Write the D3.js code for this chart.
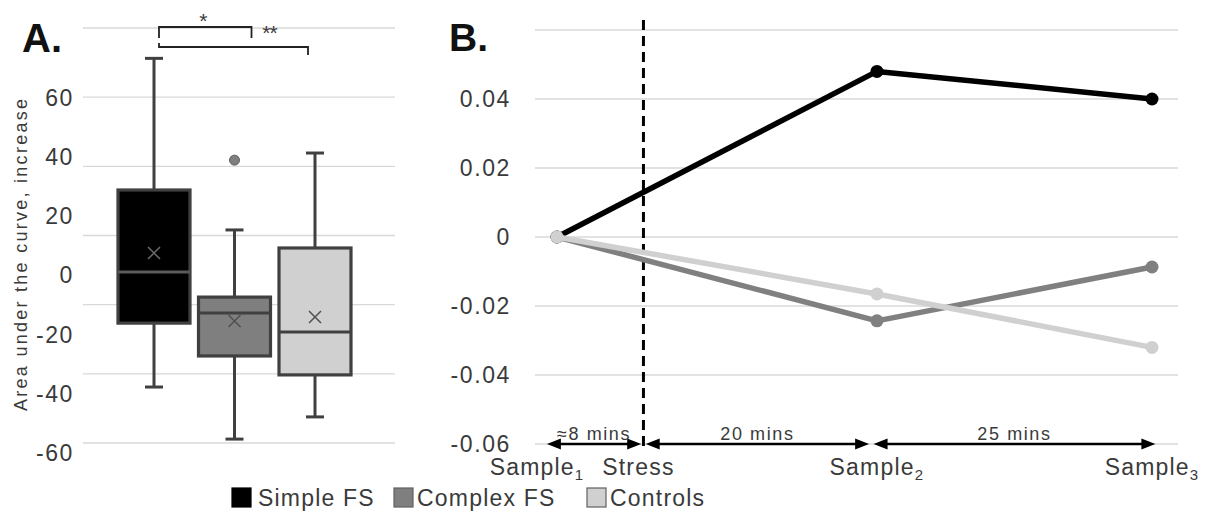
<!DOCTYPE html>
<html><head><meta charset="utf-8">
<script src="https://cdn.jsdelivr.net/npm/d3@7/dist/d3.min.js"></script>
<style>
html,body{margin:0;padding:0;background:#fff;}
svg text{font-family:"Liberation Sans",Arial,sans-serif;}
</style></head>
<body><svg id="c" width="1206" height="512"></svg>
<script>
// ---------- Panel A data (box plots) ----------
const groups = ["Simple FS", "Complex FS", "Controls"];
const groupColors = ["#000000", "#7f7f7f", "#d0d0d0"];
const whiskerLow = [-37.7, -55.3, -47.8];
const q1 = [-16.1, -27.2, -33.6];
const median = [1.2, -12.7, -19.1];
const q3 = [28.9, -7.3, 9.3];
const whiskerHigh = [73.4, 15.4, 41.4];
const means = [7.6, -15.4, -14.0];
const outliers = [[], [39.0], []];
const tickLabelsA = [60, 40, 20, 0, -20, -40, -60];
const gridValuesA = [80, 60, 40, 20, 0, -20, -40];
const yTitleA = "Area under the curve, increase";

// ---------- Panel B data (lines) ----------
const samples = ["Sample1", "Sample2", "Sample3"];
const sampleTimes = [0, 28.5, 53];
const simpleB = [0, 0.048, 0.040];
const complexB = [0, -0.0243, -0.0087];
const controlsB = [0, -0.0165, -0.032];
const stressTime = 7.7;
const gridValuesB = [0.06, 0.04, 0.02, 0, -0.02, -0.04, -0.06];
const tickLabelsB = [0.04, 0.02, 0, -0.02, -0.04, -0.06];
const intervalFrom = [-0.9, 7.9, 28.2];
const intervalTo = [7.5, 27.8, 53.3];
const intervalLabels = ["\u22488 mins", "20 mins", "25 mins"];

const svg = d3.select("#c");
const txt = "#3a3a3a";
const hyphen = s => String(s).replace("\u2212", "-");

// ================= Panel A =================
const yA = d3.scaleLinear().domain([-60, 60]).range([453, 98]);
const yGridA = d3.scaleLinear().domain([-40, 80]).range([443, 28]);
const xA = d3.scalePoint().domain(groups).range([154, 315]);
const boxW = 72, capW = 18;

const gA = svg.append("g");
gA.selectAll("line.grid").data(gridValuesA).enter().append("line")
  .attr("x1", 83).attr("x2", 395)
  .attr("y1", d => yGridA(d)).attr("y2", d => yGridA(d))
  .attr("stroke", "#d9d9d9").attr("stroke-width", 1.3);

const axA = d3.axisLeft(yA).tickValues(tickLabelsA).tickSize(0).tickPadding(0)
  .tickFormat(d => hyphen(d3.format("d")(d)));
const axAg = gA.append("g").attr("transform", "translate(74,0)").call(axA);
axAg.select(".domain").remove();
axAg.selectAll("text").attr("font-size", 23).attr("fill", txt)
  .attr("letter-spacing", 1.6).attr("font-family", "Liberation Sans, Arial, sans-serif");

gA.append("text").attr("transform", "translate(27,255) rotate(-90)")
  .attr("text-anchor", "middle").attr("font-size", 18).attr("fill", txt)
  .attr("textLength", 312).attr("lengthAdjust", "spacing").text(yTitleA);

gA.append("text").attr("x", 22).attr("y", 52).attr("font-size", 40)
  .attr("font-weight", "bold").attr("fill", "#111").text("A.");

const boxStroke = "#404040";
groups.forEach((g, i) => {
  const cx = xA(g);
  const gg = gA.append("g");
  gg.append("line").attr("x1", cx).attr("x2", cx).attr("y1", yA(whiskerHigh[i])).attr("y2", yA(q3[i]))
    .attr("stroke", boxStroke).attr("stroke-width", 3);
  gg.append("line").attr("x1", cx).attr("x2", cx).attr("y1", yA(q1[i])).attr("y2", yA(whiskerLow[i]))
    .attr("stroke", boxStroke).attr("stroke-width", 3);
  [whiskerHigh[i], whiskerLow[i]].forEach(v => {
    gg.append("line").attr("x1", cx - capW / 2).attr("x2", cx + capW / 2)
      .attr("y1", yA(v)).attr("y2", yA(v)).attr("stroke", boxStroke).attr("stroke-width", 3);
  });
  gg.append("rect").attr("x", cx - boxW / 2).attr("width", boxW)
    .attr("y", yA(q3[i])).attr("height", yA(q1[i]) - yA(q3[i]))
    .attr("fill", groupColors[i]).attr("stroke", boxStroke).attr("stroke-width", 3.2);
  gg.append("line").attr("x1", cx - boxW / 2).attr("x2", cx + boxW / 2)
    .attr("y1", yA(median[i])).attr("y2", yA(median[i]))
    .attr("stroke", i === 0 ? "#5a5a5a" : boxStroke).attr("stroke-width", 3);
  const my = yA(means[i]), s = 6;
  gg.append("path").attr("d", `M${cx - s},${my - s}L${cx + s},${my + s}M${cx - s},${my + s}L${cx + s},${my - s}`)
    .attr("stroke", i === 0 ? "#6a6a6a" : "#505050").attr("stroke-width", 1.5);
  outliers[i].forEach(v => {
    gg.append("circle").attr("cx", cx).attr("cy", yA(v)).attr("r", 5)
      .attr("fill", "#7f7f7f").attr("stroke", "#606060").attr("stroke-width", 1);
  });
});

// significance brackets
const brY1 = 27, brY2 = 47;
const x0 = xA(groups[0]) + 5;
const bx1 = xA(groups[1]) + 17, bx2 = xA(groups[2]) - 7;
gA.append("path").attr("d", `M${x0},38V${brY1}H${bx1}V38`)
  .attr("fill", "none").attr("stroke", "#222").attr("stroke-width", 1.8);
gA.append("path").attr("d", `M${x0},43V${brY2}H${bx2}V55`)
  .attr("fill", "none").attr("stroke", "#222").attr("stroke-width", 1.8);
gA.append("text").attr("x", (x0 + bx1) / 2 - 2).attr("y", 28).attr("text-anchor", "middle")
  .attr("font-size", 21).attr("fill", txt).text("*");
gA.append("text").attr("x", bx1 + 18).attr("y", 40).attr("text-anchor", "middle")
  .attr("font-size", 21).attr("fill", txt).attr("letter-spacing", -1).text("**");

// ================= Panel B =================
const xB = d3.scaleLinear().domain([0, 53]).range([557, 1152]);
const yB = d3.scaleLinear().domain([-0.06, 0.06]).range([444, 30]);
const gB = svg.append("g");

gB.selectAll("line.grid").data(gridValuesB).enter().append("line")
  .attr("x1", 535).attr("x2", 1178)
  .attr("y1", d => yB(d)).attr("y2", d => yB(d))
  .attr("stroke", "#d9d9d9").attr("stroke-width", 1.3);

const axB = d3.axisLeft(yB).tickValues(tickLabelsB).tickSize(0).tickPadding(0)
  .tickFormat(d => d === 0 ? "0" : hyphen(d3.format(".2f")(d)));
const axBg = gB.append("g").attr("transform", "translate(511,0)").call(axB);
axBg.select(".domain").remove();
axBg.selectAll("text").attr("font-size", 23).attr("fill", txt)
  .attr("letter-spacing", 1.6).attr("font-family", "Liberation Sans, Arial, sans-serif");

gB.append("text").attr("x", 449).attr("y", 51).attr("font-size", 39)
  .attr("font-weight", "bold").attr("fill", "#111").text("B.");

// stress dashed line
gB.append("line").attr("x1", xB(stressTime)).attr("x2", xB(stressTime))
  .attr("y1", 20).attr("y2", yB(-0.06) + 6)
  .attr("stroke", "#000").attr("stroke-width", 3).attr("stroke-dasharray", "10,6");

// series lines
const seriesB = [
  { name: groups[0], vals: simpleB, color: "#000000" },
  { name: groups[1], vals: complexB, color: "#808080" },
  { name: groups[2], vals: controlsB, color: "#d0d0d0" }
];
const lineGen = d3.line().x(d => xB(d[0])).y(d => yB(d[1]));
seriesB.forEach(s => {
  const pts = sampleTimes.map((t, i) => [t, s.vals[i]]);
  gB.append("path").attr("d", lineGen(pts)).attr("fill", "none")
    .attr("stroke", s.color).attr("stroke-width", 5.5).attr("stroke-linejoin", "round");
  gB.selectAll(null).data(pts).enter().append("circle")
    .attr("cx", d => xB(d[0])).attr("cy", d => yB(d[1])).attr("r", 6.5).attr("fill", s.color);
});

// interval arrows
const ay = yB(-0.06);
function head(x, dir) {
  const L = 14, H = 5.5;
  return `M${x},${ay}L${x - dir * L},${ay - H}L${x - dir * L},${ay + H}Z`;
}
intervalFrom.forEach((f, i) => {
  const xa = xB(f), xb = xB(intervalTo[i]);
  gB.append("line").attr("x1", xa + 6).attr("x2", xb - 6).attr("y1", ay).attr("y2", ay)
    .attr("stroke", "#000").attr("stroke-width", 2.5);
  gB.append("path").attr("d", head(xa, -1)).attr("fill", "#000");
  gB.append("path").attr("d", head(xb, 1)).attr("fill", "#000");
  gB.append("text").attr("x", (xa + xb) / 2).attr("y", ay - 4)
    .attr("text-anchor", "middle").attr("font-size", 18).attr("fill", txt)
    .attr("letter-spacing", 1.6).text(intervalLabels[i]);
});

// x labels
const xLabY = 475;
samples.forEach((s, i) => {
  const t = gB.append("text").attr("x", xB(sampleTimes[i]) - (i === 0 ? 20 : 0))
    .attr("y", xLabY).attr("text-anchor", "middle").attr("font-size", 23).attr("fill", txt)
    .attr("letter-spacing", 1.2);
  t.append("tspan").text(s.replace(/\d$/, ""));
  t.append("tspan").attr("font-size", 15).attr("dy", 5).text(s.slice(-1));
});
gB.append("text").attr("x", xB(stressTime) - 5).attr("y", xLabY).attr("text-anchor", "middle")
  .attr("font-size", 23).attr("fill", txt).attr("letter-spacing", 1.2).text("Stress");

// ================= Legend =================
const legX = [232, 394, 587];
const legend = svg.append("g");
groups.forEach((g, i) => {
  legend.append("rect").attr("x", legX[i]).attr("y", 488).attr("width", 19).attr("height", 19)
    .attr("fill", groupColors[i]).attr("stroke", i === 0 ? "#000" : "#606060").attr("stroke-width", 1.2);
  legend.append("text").attr("x", legX[i] + (i === 0 ? 26 : 23)).attr("y", 506)
    .attr("font-size", 23).attr("fill", txt).attr("letter-spacing", 1.2).text(g);
});
</script></body></html>
